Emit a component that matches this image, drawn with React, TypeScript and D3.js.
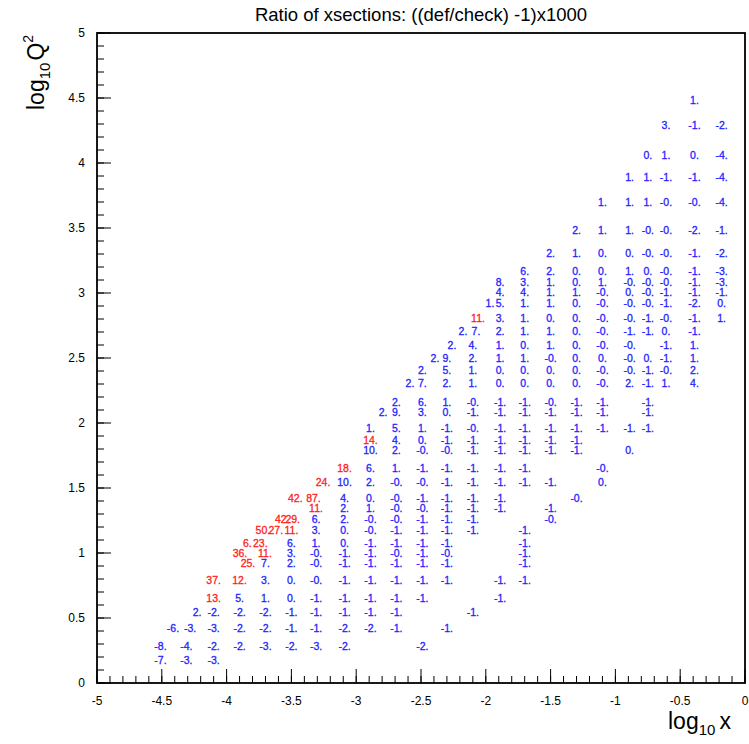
import React from "react";
import * as d3 from "d3";

// ---- axes ----
const xDomain: [number, number] = [-5, 0];
const yDomain: [number, number] = [0, 5];
const xTickLabels = ["-5", "-4.5", "-4", "-3.5", "-3", "-2.5", "-2", "-1.5", "-1", "-0.5", "0"];
const xTickValues = [-5, -4.5, -4, -3.5, -3, -2.5, -2, -1.5, -1, -0.5, 0];
const yTickLabels = ["0", "0.5", "1", "1.5", "2", "2.5", "3", "3.5", "4", "4.5", "5"];
const yTickValues = [0, 0.5, 1, 1.5, 2, 2.5, 3, 3.5, 4, 4.5, 5];
const title = "Ratio of xsections: ((def/check) -1)x1000";

// ---- label grid: column positions in log10 x ----
const colX = [
  -4.51, -4.31, -4.1, -3.9, -3.7, -3.5, -3.31, -3.09, -2.89, -2.69, -2.49, -2.3,
  -2.1, -1.89, -1.7, -1.5, -1.3, -1.1, -0.89, -0.75, -0.61, -0.39, -0.18,
];

// rows: [log10 Q2, [[column index, label], ...]]
const gridRows: [number, [number, string][]][] = [
  [4.485, [[21, "1."]]],
  [4.292, [[20, "3."], [21, "-1."], [22, "-2."]]],
  [4.062, [[19, "0."], [20, "1."], [21, "0."], [22, "-4."]]],
  [3.892, [[18, "1."], [19, "1."], [20, "-1."], [21, "-1."], [22, "-4."]]],
  [3.7, [[17, "1."], [18, "1."], [19, "1."], [20, "-0."], [21, "-0."], [22, "-4."]]],
  [3.485, [[16, "2."], [17, "1."], [18, "1."], [19, "-0."], [20, "-0."], [21, "-2."], [22, "-1."]]],
  [3.308, [[15, "2."], [16, "1."], [17, "0."], [18, "0."], [19, "-0."], [20, "-0."], [21, "-1."], [22, "-2."]]],
  [3.169, [[14, "6."], [15, "2."], [16, "0."], [17, "0."], [18, "1."], [19, "0."], [20, "-0."], [21, "-1."], [22, "-3."]]],
  [3.085, [[13, "8."], [14, "3."], [15, "1."], [16, "0."], [17, "1."], [18, "-0."], [19, "-0."], [20, "-0."], [21, "-1."], [22, "-3."]]],
  [3.008, [[13, "4."], [14, "4."], [15, "1."], [16, "1."], [17, "-0."], [18, "0."], [19, "-0."], [20, "-1."], [21, "-1."], [22, "-1."]]],
  [2.923, [[13, "5."], [14, "1."], [15, "1."], [16, "0."], [17, "-0."], [18, "-0."], [19, "-0."], [20, "-1."], [21, "-2."], [22, "0."]]],
  [2.808, [[13, "3."], [14, "1."], [15, "0."], [16, "0."], [17, "-0."], [18, "-0."], [19, "-1."], [20, "-0."], [21, "-1."], [22, "1."]]],
  [2.708, [[13, "2."], [14, "1."], [15, "1."], [16, "0."], [17, "-0."], [18, "-1."], [19, "-1."], [20, "0."], [21, "-1."]]],
  [2.6, [[12, "4."], [13, "1."], [14, "0."], [15, "1."], [16, "0."], [17, "-0."], [18, "-0."], [20, "-1."], [21, "1."]]],
  [2.5, [[11, "9."], [12, "2."], [13, "1."], [14, "1."], [15, "-0."], [16, "0."], [17, "0."], [18, "-0."], [19, "0."], [20, "-1."], [21, "1."]]],
  [2.408, [[10, "2."], [11, "5."], [12, "1."], [13, "0."], [14, "0."], [15, "0."], [16, "0."], [17, "-0."], [18, "-0."], [19, "-1."], [20, "-0."], [21, "2."]]],
  [2.308, [[10, "7."], [11, "2."], [12, "1."], [13, "0."], [14, "0."], [15, "0."], [16, "0."], [17, "-0."], [18, "2."], [19, "-1."], [20, "1."], [21, "4."]]],
  [2.162, [[9, "2."], [10, "6."], [11, "1."], [12, "-0."], [13, "-1."], [14, "-1."], [15, "-0."], [16, "-1."], [17, "-1."], [19, "-1."]]],
  [2.085, [[9, "9."], [10, "3."], [11, "0."], [12, "-1."], [13, "-1."], [14, "-1."], [15, "-1."], [16, "-1."], [17, "-1."], [19, "-1."]]],
  [1.962, [[8, "1."], [9, "5."], [10, "1."], [11, "-1."], [12, "-0."], [13, "-1."], [14, "-1."], [15, "-1."], [16, "-1."], [17, "-1."], [18, "-1."], [19, "-1."]]],
  [1.869, [[8, "14."], [9, "4."], [10, "0."], [11, "-1."], [12, "-1."], [13, "-1."], [14, "-1."], [15, "-1."], [16, "-1."]]],
  [1.792, [[8, "10."], [9, "2."], [10, "-0."], [11, "-0."], [12, "-1."], [13, "-1."], [14, "-1."], [15, "-1."], [16, "-1."], [18, "0."]]],
  [1.654, [[7, "18."], [8, "6."], [9, "1."], [10, "-1."], [11, "-1."], [12, "-1."], [13, "-1."], [14, "-1."], [17, "-0."]]],
  [1.546, [[7, "10."], [8, "2."], [9, "-0."], [10, "-0."], [11, "-1."], [12, "-1."], [13, "-1."], [14, "-1."], [15, "-1."], [17, "0."]]],
  [1.423, [[7, "4."], [8, "0."], [9, "-0."], [10, "-1."], [11, "-1."], [12, "-1."], [13, "-1."], [16, "-0."]]],
  [1.346, [[6, "11."], [7, "2."], [8, "1."], [9, "-0."], [10, "-0."], [11, "-1."], [12, "-1."], [13, "-1."], [15, "-1."]]],
  [1.262, [[6, "6."], [7, "2."], [8, "-0."], [9, "-0."], [10, "-1."], [11, "-1."], [12, "-1."], [15, "-0."]]],
  [1.177, [[6, "3."], [7, "0."], [8, "-0."], [9, "-1."], [10, "-1."], [11, "-1."], [12, "-1."], [14, "-1."]]],
  [1.077, [[5, "6."], [6, "1."], [7, "0."], [8, "-1."], [9, "-1."], [10, "-1."], [11, "-1."], [14, "-1."]]],
  [1.0, [[5, "3."], [6, "-0."], [7, "-1."], [8, "-1."], [9, "-0."], [10, "-1."], [11, "-0."], [14, "-1."]]],
  [0.923, [[4, "7."], [5, "2."], [6, "-0."], [7, "-1."], [8, "-1."], [9, "-1."], [10, "-1."], [11, "-1."], [14, "-1."]]],
  [0.792, [[2, "37."], [3, "12."], [4, "3."], [5, "0."], [6, "-0."], [7, "-1."], [8, "-1."], [9, "-1."], [10, "-1."], [11, "-1."], [13, "-1."], [14, "-1."]]],
  [0.654, [[2, "13."], [3, "5."], [4, "1."], [5, "0."], [6, "-1."], [7, "-1."], [8, "-1."], [9, "-1."], [10, "-1."], [13, "-1."]]],
  [0.546, [[2, "-2."], [3, "-2."], [4, "-2."], [5, "-1."], [6, "-1."], [7, "-1."], [8, "-1."], [9, "-1."], [12, "-1."]]],
  [0.423, [[2, "-3."], [3, "-2."], [4, "-2."], [5, "-1."], [6, "-1."], [7, "-2."], [8, "-2."], [9, "-1."], [11, "-1."]]],
  [0.285, [[0, "-8."], [1, "-4."], [2, "-2."], [3, "-2."], [4, "-3."], [5, "-2."], [6, "-3."], [7, "-2."], [10, "-2."]]],
  [0.177, [[0, "-7."], [1, "-3."], [2, "-3."]]],
];

// labels that sit off the regular columns: [log10 x, log10 Q2, label, flagged]
const looseLabels: [number, number, string, boolean][] = [
  [-1.968, 2.923, "1.", false],
  [-2.06, 2.808, "11.", true],
  [-2.176, 2.708, "2.", false],
  [-2.076, 2.708, "7.", false],
  [-2.261, 2.6, "2.", false],
  [-2.392, 2.5, "2.", false],
  [-2.585, 2.308, "2.", false],
  [-2.793, 2.085, "2.", false],
  [-3.256, 1.546, "24.", true],
  [-3.47, 1.423, "42.", true],
  [-3.33, 1.423, "87.", true],
  [-3.57, 1.262, "42.", true],
  [-3.49, 1.262, "29.", true],
  [-3.72, 1.177, "50.", true],
  [-3.62, 1.177, "27.", true],
  [-3.5, 1.177, "11.", true],
  [-3.84, 1.077, "6.", true],
  [-3.74, 1.077, "23.", true],
  [-3.897, 1.0, "36.", true],
  [-3.704, 1.0, "11.", true],
  [-3.835, 0.923, "25.", true],
  [-4.228, 0.546, "2.", false],
  [-4.414, 0.423, "-6.", false],
  [-4.282, 0.423, "-3.", false],
];

const FONT = "'Liberation Sans', Arial, Helvetica, sans-serif";
const BLUE = "#2323ff";
const RED = "#ff2020";

export default function App() {
  const left = 97, right = 745, top = 33, bottom = 683;
  const x = d3.scaleLinear().domain(xDomain).range([left, right]);
  const y = d3.scaleLinear().domain(yDomain).range([bottom, top]);

  const minorX = d3.range(-5, 0.0001, 0.1).map((v) => +v.toFixed(2));
  const minorY = d3.range(0, 5.0001, 0.1).map((v) => +v.toFixed(2));

  const labels: { lx: number; lq: number; t: string; red: boolean }[] = [];
  gridRows.forEach(([q, cells]) =>
    cells.forEach(([c, t]) => labels.push({ lx: colX[c], lq: q, t, red: parseFloat(t) > 10 }))
  );
  looseLabels.forEach(([lx, lq, t, f]) => labels.push({ lx, lq, t, red: f }));

  return (
    <svg width={749} height={744} style={{ position: "absolute", left: 0, top: 0, background: "#fff" }} fontFamily={FONT}>
      <rect x={0} y={0} width={749} height={744} fill="#fff" />
      <text x={421} y={21} textAnchor="middle" fontSize={18.5} fill="#000">{title}</text>

      {/* minor ticks */}
      {minorX.map((v, i) => (
        <line key={"mx" + i} x1={x(v)} x2={x(v)} y1={bottom} y2={bottom - 7} stroke="#000" strokeWidth={1} />
      ))}
      {minorY.map((v, i) => (
        <line key={"my" + i} x1={left} x2={left + 7} y1={y(v)} y2={y(v)} stroke="#000" strokeWidth={1} />
      ))}
      {xTickValues.map((v, i) => (
        <g key={"xt" + i}>
          <line x1={x(v)} x2={x(v)} y1={bottom} y2={bottom - 14} stroke="#000" strokeWidth={1} />
          <text x={x(v)} y={bottom + 22} textAnchor="middle" fontSize={12} fill="#000">{xTickLabels[i]}</text>
        </g>
      ))}
      {yTickValues.map((v, i) => (
        <g key={"yt" + i}>
          <line x1={left} x2={left + 14} y1={y(v)} y2={y(v)} stroke="#000" strokeWidth={1} />
          <text x={left - 12} y={y(v) + 4} textAnchor="end" fontSize={12} fill="#000">{yTickLabels[i]}</text>
        </g>
      ))}
      <rect x={left} y={top} width={right - left} height={bottom - top} fill="none" stroke="#000" strokeWidth={1.8} />

      {/* value labels */}
      {labels.map((d, i) => {
        const c = d.red ? RED : BLUE;
        return (
          <text key={"l" + i} x={x(d.lx)} y={y(d.lq)} dy="0.36em" textAnchor="middle" fontSize={10.5}
            fill={c} stroke={c} strokeWidth={0.3}>
            {d.t}
          </text>
        );
      })}

      {/* axis titles */}
      <g transform="translate(44,110) rotate(-90)">
        <text x={0} y={0} fontSize={23} fill="#000">
          log<tspan fontSize={15} dy={6}>10</tspan><tspan dy={-6} dx={2}>Q</tspan><tspan fontSize={14} dy={-11}>2</tspan>
        </text>
      </g>
      <text x={668} y={729} fontSize={23} fill="#000">
        log<tspan fontSize={15} dy={6}>10</tspan><tspan dy={-6} dx={4}>x</tspan>
      </text>
    </svg>
  );
}
